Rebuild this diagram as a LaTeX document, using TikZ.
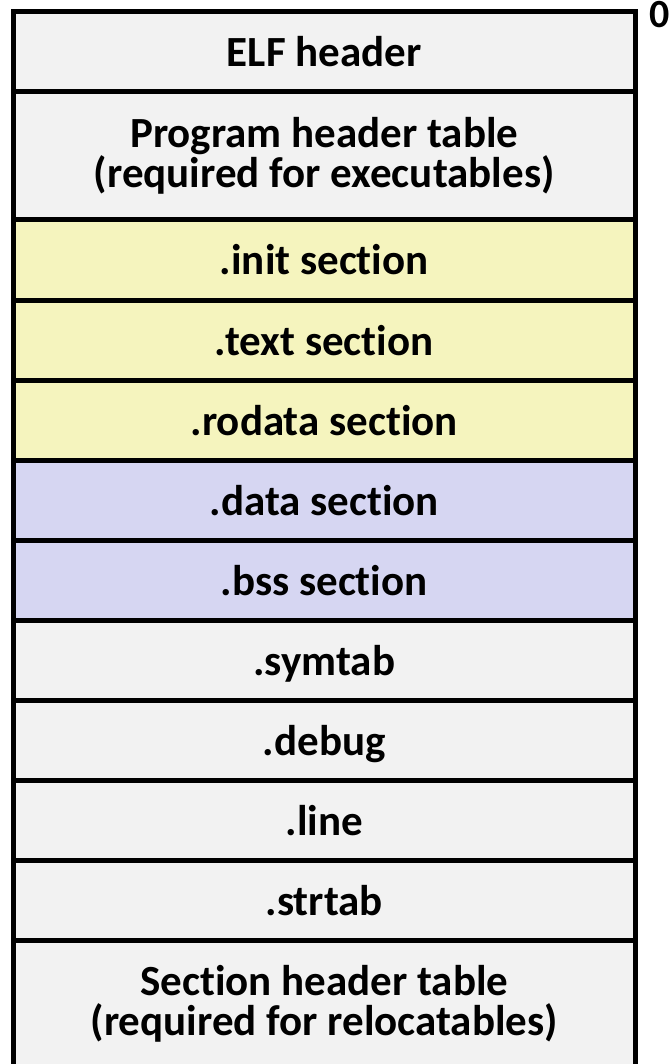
\documentclass[tikz,border=0pt]{standalone}
\usepackage{fontspec}
\setmainfont{Carlito}[Ligatures=NoCommon]
\usetikzlibrary{positioning}

\definecolor{hdrgray}{RGB}{242,242,242}
\definecolor{codeyellow}{RGB}{245,244,190}
\definecolor{datablue}{RGB}{214,214,242}

\begin{document}
\begin{tikzpicture}[
    x=1pt, y=1pt,
    node distance=0pt,
    sect/.style={rectangle, draw, line width=5pt, outer sep=0pt, inner sep=0pt,
                 minimum width=622.5pt, align=center,
                 font=\fontsize{43}{40}\selectfont\bfseries},
    onerow/.style={sect, minimum height=80pt, text height=32pt, text depth=2pt},
    tworow/.style={sect, minimum height=128pt}
]
\clip (0,0) rectangle (671,-1064);

% Sections
\node (elf)    [onerow, fill=hdrgray, anchor=north west] at (13,-12) {ELF header};
\node (phdr)   [tworow, fill=hdrgray, below=of elf]      {Program header table\\(required for executables)};
\node (init)   [onerow, fill=codeyellow, below=of phdr]  {.init section};
\node (text)   [onerow, fill=codeyellow, below=of init]  {.text section};
\node (rodata) [onerow, fill=codeyellow, below=of text]  {.rodata section};
\node (data)   [onerow, fill=datablue, below=of rodata]  {.data section};
\node (bss)    [onerow, fill=datablue, below=of data]    {.bss section};
\node (symtab) [onerow, fill=hdrgray, below=of bss]      {.symtab};
\node (debug)  [onerow, fill=hdrgray, below=of symtab]   {.debug};
\node (line)   [onerow, fill=hdrgray, below=of debug]    {.line};
\node (strtab) [onerow, fill=hdrgray, below=of line]     {.strtab};
\node (shdr)   [tworow, fill=hdrgray, below=of strtab]   {Section header table\\(required for relocatables)};

% Offset
\node (zero) [anchor=base west, inner sep=0pt, font=\fontsize{40}{40}\selectfont\bfseries] at (649,-28) {0};

\end{tikzpicture}
\end{document}
